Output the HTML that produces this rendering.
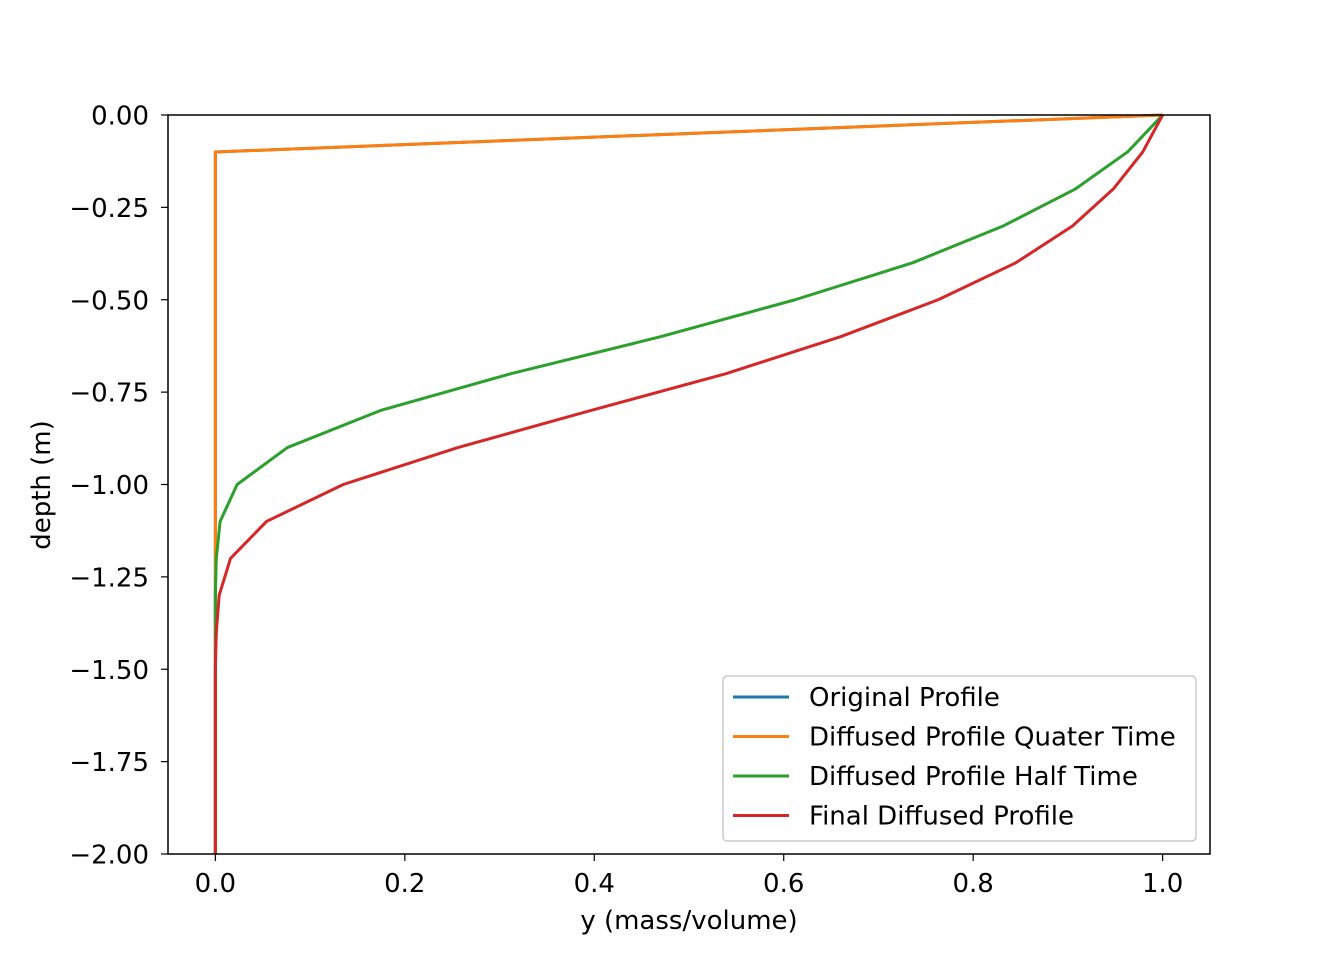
<!DOCTYPE html>
<html><head><meta charset="utf-8"><style>
body{margin:0;background:#fff}
svg text{font-family:"DejaVu Sans","Liberation Sans",sans-serif;fill:#000}
</style></head><body>
<svg id="chart" width="1344" height="960" xmlns="http://www.w3.org/2000/svg">
<rect width="1344" height="960" fill="#fff"/>
<g id="plot"></g>
</svg>
<script>
const depths = [0,-0.1,-0.2,-0.3,-0.4,-0.5,-0.6,-0.7,-0.8,-0.9,-1.0,-1.1,-1.2,-1.3,-1.4,-1.5,-1.6,-1.7,-1.8,-1.9,-2.0];
const original = [1,0,0,0,0,0,0,0,0,0,0,0,0,0,0,0,0,0,0,0,0];
const quarter = [1,0,0,0,0,0,0,0,0,0,0,0,0,0,0,0,0,0,0,0,0];
const half = [1,0.963,0.908,0.832,0.736,0.612,0.470,0.312,0.174,0.076,0.023,0.005,0.001,0,0,0,0,0,0,0,0];
const finalP = [1,0.979,0.948,0.905,0.845,0.763,0.660,0.539,0.396,0.256,0.135,0.054,0.016,0.004,0.001,0,0,0,0,0,0];
const xTicks = [0.0,0.2,0.4,0.6,0.8,1.0];
const yTicks = [0,-0.25,-0.5,-0.75,-1.0,-1.25,-1.5,-1.75,-2.0];
const seriesNames = ["Original Profile","Diffused Profile Quater Time","Diffused Profile Half Time","Final Diffused Profile"];
const colors = ["#1f77b4","#ff7f0e","#2ca02c","#d62728"];

const L=168,R=1210,T=115,B=854;
const FS=26;
const xs=v=>L+(v+0.05)/1.1*(R-L);
const ys=v=>T+(0-v)/2*(B-T);
const NS="http://www.w3.org/2000/svg";
const g=document.getElementById('plot');
function mk(tag,attrs,parent){const e=document.createElementNS(NS,tag);for(const k in attrs)e.setAttribute(k,attrs[k]);(parent||g).appendChild(e);return e;}

const series=[original,quarter,half,finalP];
series.forEach((s,i)=>{
  const p=mk('polyline',{points:s.map((v,j)=>xs(v)+','+ys(depths[j])).join(' '),fill:'none',stroke:colors[i],'stroke-width':3,'stroke-linejoin':'round'});
  
  
});
const frame=mk('rect',{x:L,y:T,width:R-L,height:B-T,fill:'none',stroke:'#000','stroke-width':1.5});


xTicks.forEach(v=>{
  const x=xs(v);
  mk('line',{x1:x,x2:x,y1:B,y2:B+7,stroke:'#000','stroke-width':1.2});
  const t=mk('text',{x:x,y:B+38,'text-anchor':'middle','font-size':FS});
  t.textContent=v.toFixed(1);
  
  
});
yTicks.forEach(v=>{
  const y=ys(v);
  mk('line',{x1:L-7,x2:L,y1:y,y2:y,stroke:'#000','stroke-width':1.2});
  const t=mk('text',{x:L-19,y:y+9.5,'text-anchor':'end','font-size':FS});
  t.textContent=(v<0?'\u2212':'')+Math.abs(v).toFixed(2);
  
  
});
const xt=mk('text',{x:(L+R)/2,y:929,'text-anchor':'middle','font-size':FS});
xt.textContent='y (mass/volume)';


const yt=mk('text',{x:0,y:0,'text-anchor':'middle','font-size':FS,transform:'translate(50,485) rotate(-90)'});
yt.textContent='depth (m)';


const lg=mk('g',{});


mk('rect',{x:723,y:676,width:473,height:165,rx:4,fill:'#fff','fill-opacity':0.8,stroke:'#ccc','stroke-width':1.5},lg);
seriesNames.forEach((n,i)=>{
  const y=697+i*39.5;
  mk('line',{x1:733,x2:789,y1:y,y2:y,stroke:colors[i],'stroke-width':3},lg);
  const t=mk('text',{x:809,y:y+9,'font-size':FS},lg);
  t.textContent=n;
  
  
});
</script>
</body></html>
